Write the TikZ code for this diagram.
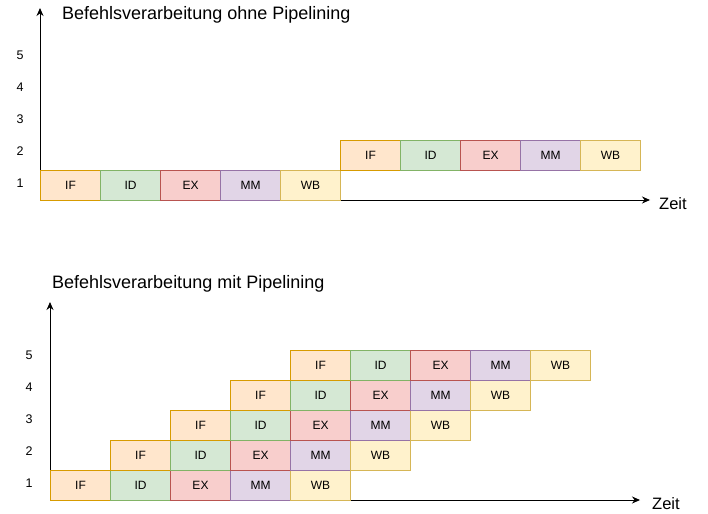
\documentclass[tikz,border=0pt]{standalone}
\usepackage{fontspec}
\setmainfont{Liberation Sans}
\usetikzlibrary{arrows.meta}
\definecolor{ifF}{HTML}{FFE6CC}\definecolor{ifD}{HTML}{D79B00}
\definecolor{idF}{HTML}{D5E8D4}\definecolor{idD}{HTML}{82B366}
\definecolor{exF}{HTML}{F8CECC}\definecolor{exD}{HTML}{B85450}
\definecolor{mmF}{HTML}{E1D5E7}\definecolor{mmD}{HTML}{9673A6}
\definecolor{wbF}{HTML}{FFF2CC}\definecolor{wbD}{HTML}{D6B656}
\tikzset{
  stage/.style={draw, line width=1pt, minimum width=60pt, minimum height=30pt, inner sep=0pt, anchor=north west, font=\fontsize{12}{14}\selectfont},
  sIF/.style={stage, fill=ifF, draw=ifD},
  sID/.style={stage, fill=idF, draw=idD},
  sEX/.style={stage, fill=exF, draw=exD},
  sMM/.style={stage, fill=mmF, draw=mmD},
  sWB/.style={stage, fill=wbF, draw=wbD},
  axis/.style={line width=1pt, -{Stealth[length=8pt,width=7pt]}},
  num/.style={font=\fontsize{12.5}{14}\selectfont},
  title/.style={anchor=west, font=\fontsize{18}{21}\selectfont, inner sep=0pt},
  zeit/.style={anchor=west, font=\fontsize{16.5}{19}\selectfont, inner sep=0pt},
}
\begin{document}
\begin{tikzpicture}[x=1pt,y=-1pt]
\useasboundingbox (0,0) rectangle (708,513);
% ---------- top diagram ----------
\coordinate (o1) at (40,200);
\coordinate (yt1) at (40,8);
\coordinate (xe1) at (650,200);
\draw[axis] (o1) -- (yt1);
\draw[axis] (o1) -- (xe1);
\node[title] (title1) at (62,15) {Befehlsverarbeitung ohne Pipelining};
\node[zeit] (zeit1) at (659,204) {Zeit};
\foreach \n/\y in {1/183,2/151,3/119,4/87,5/55}
  \node[num] (tn\n) at (20,\y) {\n};
\foreach \s [count=\i from 0] in {IF,ID,EX,MM,WB}{
  \pgfmathsetmacro{\xx}{40+60*\i}
  \node[s\s] (ta\s) at (\xx,170) {\s};
}
\foreach \s [count=\i from 0] in {IF,ID,EX,MM,WB}{
  \pgfmathsetmacro{\xx}{340+60*\i}
  \node[s\s] (tb\s) at (\xx,140) {\s};
}
% ---------- bottom diagram ----------
\coordinate (o2) at (50,500);
\coordinate (yt2) at (50,302);
\coordinate (xe2) at (640,500);
\draw[axis] (o2) -- (yt2);
\draw[axis] (o2) -- (xe2);
\node[title] (title2) at (52,284) {Befehlsverarbeitung mit Pipelining};
\node[zeit] (zeit2) at (652,504) {Zeit};
\foreach \n/\y in {1/483,2/451,3/419,4/387,5/355}
  \node[num] (bn\n) at (29,\y) {\n};
\foreach \r in {1,...,5}{
  \foreach \s [count=\i from 0] in {IF,ID,EX,MM,WB}{
    \pgfmathsetmacro{\xx}{50+60*(\r-1)+60*\i}
    \pgfmathsetmacro{\yy}{470-30*(\r-1)}
    \node[s\s] (b\r\s) at (\xx,\yy) {\s};
  }
}
\end{tikzpicture}
\end{document}
